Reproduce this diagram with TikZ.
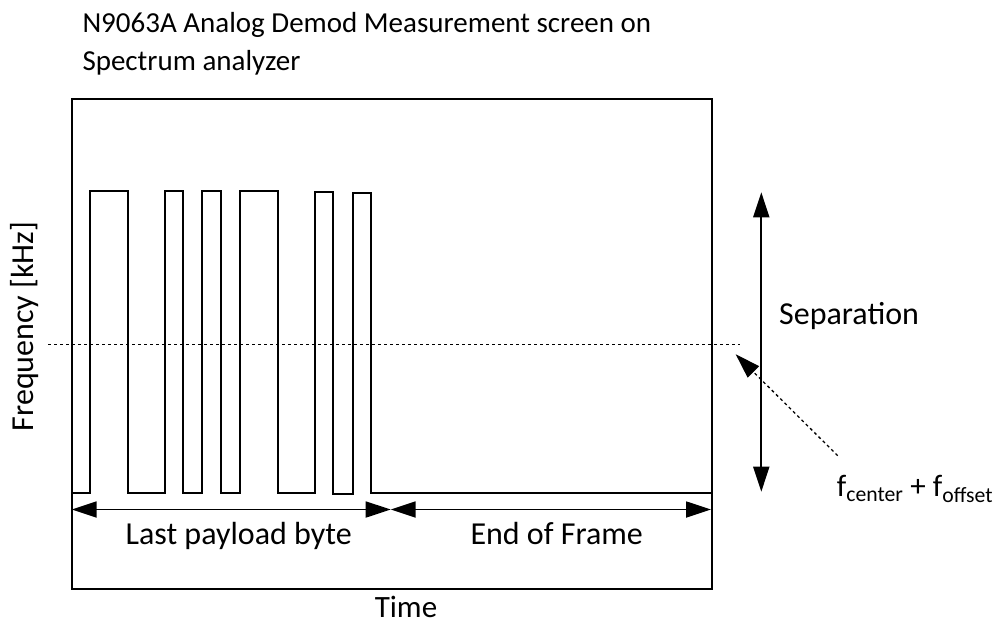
\documentclass[tikz,border=0pt]{standalone}
\usepackage{fontspec}
\setmainfont{Carlito}
\usetikzlibrary{arrows.meta}

\tikzset{
  frame/.style={line width=2pt},
  trace/.style={line width=1.8pt, line join=miter},
  dimarrow/.style={line width=1.8pt, {Triangle[length=25pt,width=16pt]}-{Triangle[length=25pt,width=16pt]}},
  onearrow/.style={line width=1.3pt, dash pattern=on 3pt off 3pt, -{Triangle[length=25pt,width=16pt]}},
  refline/.style={line width=1.3pt, dash pattern=on 3pt off 3pt},
  label/.style={inner sep=0pt, font=\fontsize{32}{38}\selectfont},
  titletext/.style={inner sep=0pt, anchor=base west, font=\fontsize{29}{35}\selectfont},
}

\begin{document}
\begin{tikzpicture}[x=1pt, y=-1pt]
\useasboundingbox (0,0) rectangle (995,624);

% title
\node[titletext] (title1) at (82.3,32.3) {N9063A Analog Demod Measurement screen on};
\node[titletext] (title2) at (82.3,70) {Spectrum analyzer};

% display frame
\draw[frame] (71.5,98.8) rectangle (712.3,589);

% demodulated frequency trace
\draw[trace] (71.7,493.3) -- (89.7,493.3) -- (89.7,191) -- (127.7,191) -- (127.7,493.3)
  -- (164.7,493.3) -- (164.7,191) -- (183.3,191) -- (183.3,493.3)
  -- (202.3,493.3) -- (202.3,191) -- (221,191) -- (221,493.3)
  -- (240,493.3) -- (240,191) -- (277.7,191) -- (277.7,493.3)
  -- (315,493.3) -- (315,192) -- (333.3,192) -- (333.3,494)
  -- (352.7,494) -- (352.7,192.7) -- (371,192.7) -- (371,493.3)
  -- (712,493.3);

% centre frequency reference line
\coordinate (refL) at (48,344.3);
\coordinate (refR) at (740,344.3);
\draw[refline] (refL) -- (refR);

% time spans
\coordinate (spanA) at (71.7,509.5);
\coordinate (spanB) at (390.7,509.5);
\coordinate (spanC) at (711,509.5);
\draw[dimarrow] (spanA) -- (spanB);
\draw[dimarrow] (spanB) -- (spanC);
\node[label, anchor=base] (payload) at (238.7,544.3) {Last payload byte};
\node[label, anchor=base] (eof) at (556.7,544.3) {End of Frame};

% axis labels
\node[label, anchor=base, text depth=0pt, font=\fontsize{31}{36}\selectfont] (time) at (406,617.5) {Time};
\node[label, anchor=base, rotate=90] (freq) at (33.3,326.5) {Frequency [kHz]};

% frequency separation
\coordinate (sepTop) at (761.3,192.3);
\coordinate (sepBot) at (761.3,491.7);
\draw[dimarrow] (sepTop) -- (sepBot);
\node[label, anchor=base west] (sep) at (779,324) {Separation};

% centre + offset annotation
\node[label, anchor=base west, font=\fontsize{31}{37}\selectfont] (fc) at (836.7,496) {f\textsubscript{center} + f\textsubscript{offset}};
\coordinate (fcTail) at (837.7,455.7);
\coordinate (fcTip) at (735.7,354.3);
\draw[onearrow] (fcTail) -- (fcTip);
\end{tikzpicture}
\end{document}
